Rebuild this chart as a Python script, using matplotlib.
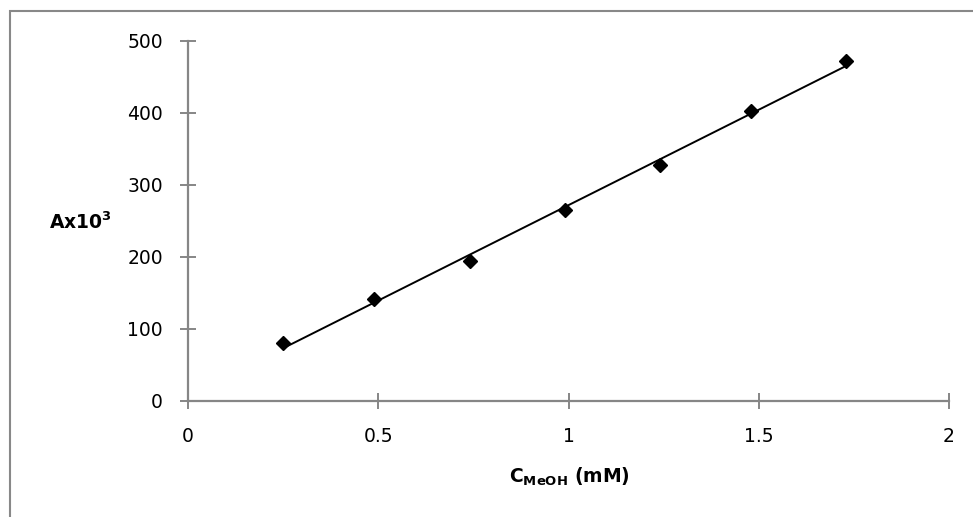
import numpy as np
import matplotlib
matplotlib.use("Agg")
import matplotlib.pyplot as plt
from matplotlib.patches import Rectangle

conc_mM = [0.25, 0.49, 0.74, 0.99, 1.24, 1.48, 1.73]
absorb_x1e3 = [80, 141, 194, 265, 328, 403, 472]
x_ticks = [0, 0.5, 1, 1.5, 2]
x_tick_labels = ["0", "0.5", "1", "1.5", "2"]
y_ticks = [0, 100, 200, 300, 400, 500]

plt.rcParams['font.family'] = ['DejaVu Sans']
plt.rcParams['mathtext.fontset'] = 'dejavusans'

W, H = 973, 517
fig = plt.figure(figsize=(W / 100, H / 100), dpi=100)

# outer chart frame (bottom and right run off the picture)
fig.patches.append(Rectangle((9.5 / W, -0.2), 1.2, (H - 11.5) / H + 0.2, transform=fig.transFigure,
                             fill=False, edgecolor='#888888', linewidth=1.5))

ax = fig.add_axes([188 / W, (H - 401) / H, (949 - 188) / W, (401 - 41) / H])
ax.set_xlim(0, 2)
ax.set_ylim(0, 500)

for s in ['top', 'right']:
    ax.spines[s].set_visible(False)
for s in ['left', 'bottom']:
    ax.spines[s].set_color('#868686')
    ax.spines[s].set_linewidth(1.6)

ax.set_xticks(x_ticks)
ax.set_xticklabels(x_tick_labels)
ax.set_yticks(y_ticks)
ax.tick_params(axis='both', direction='inout', length=12, width=1.4, color='#868686',
               labelsize=13.5, labelcolor='black')
ax.tick_params(axis='x', pad=13)
ax.tick_params(axis='y', pad=12)

x = np.array(conc_mM)
y = np.array(absorb_x1e3)
m, b = np.polyfit(x, y, 1)
xf = np.array([x.min(), x.max()])
ax.plot(xf, m * xf + b, color='black', linewidth=1.4, zorder=2)
ax.plot(x, y, linestyle='none', marker='D', markersize=7, color='black', zorder=3)

fig.text(569 / W, 1 - 477 / H, r'C$_{\mathbf{MeOH}}$ (mM)', fontsize=13.5, fontweight='bold',
         ha='center', va='center')
fig.text(80 / W, 1 - 222 / H, r'Ax10$^{\mathbf{3}}$', fontsize=13.5, fontweight='bold',
         ha='center', va='center')

fig.savefig('out.png', dpi=100)
